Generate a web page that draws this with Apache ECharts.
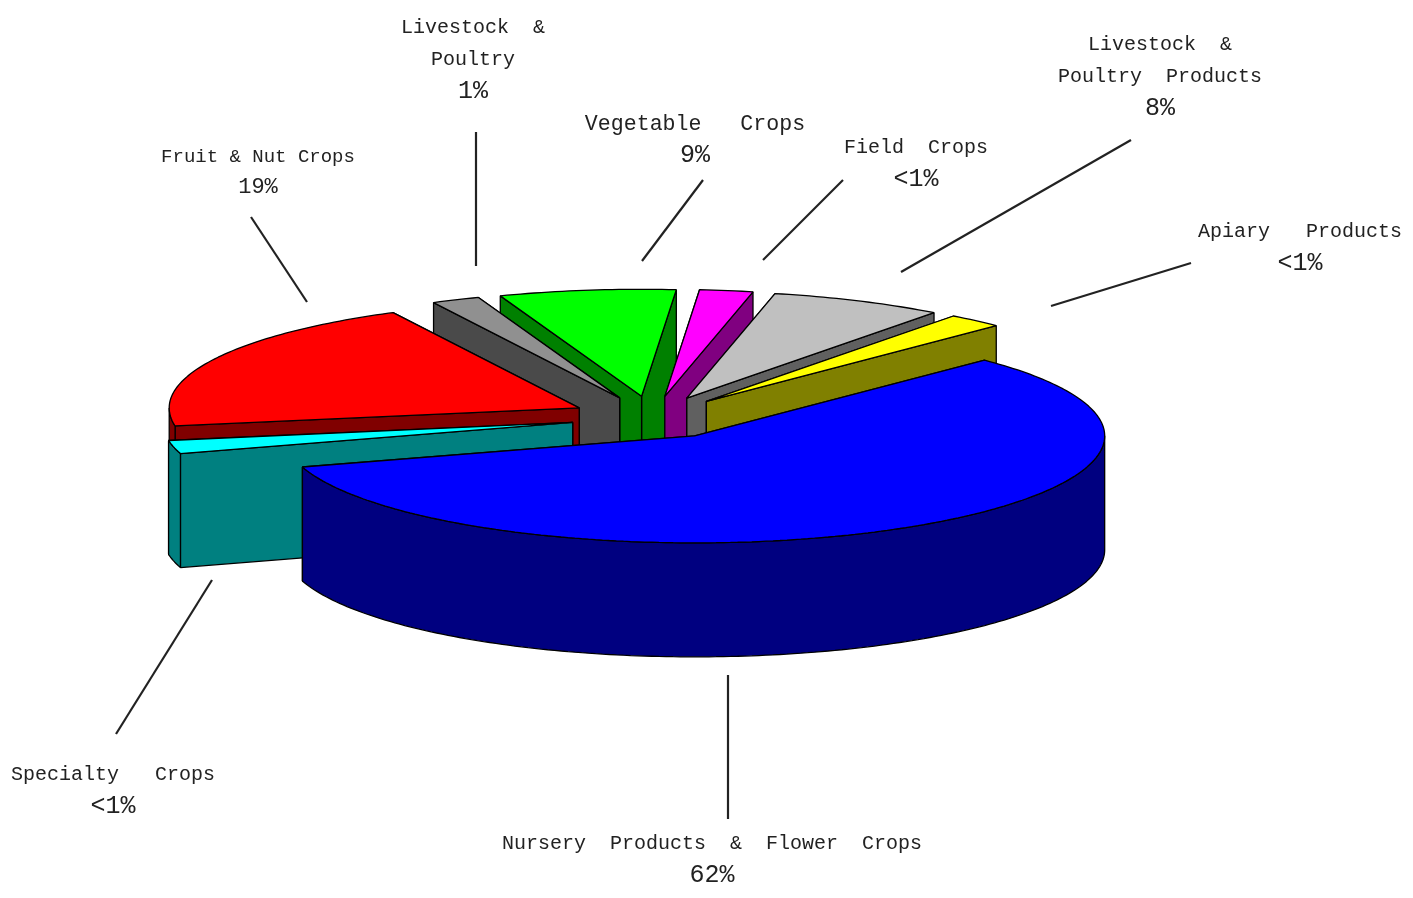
<!DOCTYPE html>
<html>
<head>
<meta charset="utf-8">
<style>html,body{margin:0;background:#fff}#main{width:1413px;height:898px}</style>
<script src="https://cdn.jsdelivr.net/npm/echarts@6/dist/echarts.min.js"></script>
</head>
<body>
<div id="main"></div>
<script>
// slices clockwise, starting at the upper right of the disc
var categories = ['Nursery Products & Flower Crops', 'Specialty Crops', 'Fruit & Nut Crops', 'Livestock & Poultry',
  'Vegetable Crops', 'Field Crops', 'Livestock & Poultry Products', 'Apiary Products'];
// share of the disc as drawn (the printed percentages are in pctLabels)
var shares = [57.8, 2, 20.2, 1.9, 6.95, 2.1, 6.85, 2.2];
var pctLabels = ['62%', '<1%', '19%', '1%', '9%', '<1%', '8%', '<1%'];
var topColors = ['#0000ff', '#00ffff', '#ff0000', '#909090', '#00ff00', '#ff00ff', '#c0c0c0', '#ffff00'];
var sideColors = ['#000080', '#008080', '#800000', '#4a4a4a', '#008000', '#800080', '#606060', '#808000'];
// back to front
var paintOrder = [4, 3, 5, 6, 7, 2, 1, 0];

var labelLines = [
  ['Nursery  Products  &  Flower  Crops'],
  ['Specialty   Crops'],
  ['Fruit & Nut Crops'],
  ['Livestock  &', 'Poultry'],
  ['Vegetable   Crops'],
  ['Field  Crops'],
  ['Livestock  &', 'Poultry  Products'],
  ['Apiary   Products']
];
var labelX = [712, 113, 258, 473, 695, 916, 1160, 1300];
var labelY = [844, 775, 157, 28, 124, 148, 45, 232];
var labelSize = [20, 20, 19, 20, 21.6, 20, 20, 20];
var leaders = [[728, 675, 728, 819], [212, 580, 116, 734], [251, 217, 307, 302], [476, 132, 476, 266],
  [703, 180, 642, 261], [843, 180, 763, 260], [1131, 140, 901, 272], [1191, 263, 1051, 306]];

var START_ANGLE = -45, RX = 410, RY = 107, DEPTH = 114, CX = 652.5, CY = 417.5, EXPLODE = 0.2;

var sum = shares.reduce(function (a, b) { return a + b; }, 0);
var acc = START_ANGLE;
var ranges = shares.map(function (s) {
  var r = [acc, acc + s / sum * 360];
  acc = r[1];
  return r;
});

function rad(d) { return d * Math.PI / 180; }

function renderSlice(params, api) {
  var i = api.value(2);
  var a0 = api.value(0), a1 = api.value(1), mid = (a0 + a1) / 2;
  var ox = CX + EXPLODE * RX * Math.cos(rad(mid));
  var oy = CY + EXPLODE * RY * Math.sin(rad(mid));
  function pt(a, dy) { return [ox + RX * Math.cos(rad(a)), oy + RY * Math.sin(rad(a)) + (dy || 0)]; }
  function face(points, fill) {
    return { type: 'polygon', shape: { points: points }, style: { fill: fill, stroke: '#000', lineWidth: 1.3, lineJoin: 'bevel' } };
  }
  function radial(a) {
    var p = pt(a);
    return face([[ox, oy], p, [p[0], p[1] + DEPTH], [ox, oy + DEPTH]], sideColors[i]);
  }
  var children = [];
  // the edge further back goes first, the other one can hide it
  var edges = [a0, a1].sort(function (a, b) { return Math.sin(rad(a)) - Math.sin(rad(b)); });
  children.push(radial(edges[0]), radial(edges[1]));

  // outer wall, front half only
  var w0 = Math.max(a0, 0), w1 = Math.min(a1, 180), a;
  if (w1 > w0) {
    var upper = [], lower = [];
    for (a = w0; a < w1; a += 1) { upper.push(pt(a)); lower.unshift(pt(a, DEPTH)); }
    upper.push(pt(w1)); lower.unshift(pt(w1, DEPTH));
    children.push(face(upper.concat(lower), sideColors[i]));
  }

  var top = [[ox, oy]];
  for (a = a0; a < a1; a += 1) top.push(pt(a));
  top.push(pt(a1));
  children.push(face(top, topColors[i]));
  return { type: 'group', children: children };
}

var graphics = [];
leaders.forEach(function (l) {
  graphics.push({ type: 'line', shape: { x1: l[0], y1: l[1], x2: l[2], y2: l[3] }, style: { stroke: '#222', lineWidth: 2.2 } });
});
function addText(text, x, y, size) {
  graphics.push({ type: 'text', x: x, y: y, style: {
    text: text, fill: '#222', font: size + 'px "Liberation Mono"', textAlign: 'center', textVerticalAlign: 'middle' } });
}
labelLines.forEach(function (lines, i) {
  var y = labelY[i], step = i === 2 ? 30 : 31.5;
  lines.forEach(function (t) { addText(t, labelX[i], y, labelSize[i]); y += step; });
  addText(pctLabels[i], labelX[i], y, i === 2 ? 22 : 25);
});

var chart = echarts.init(document.getElementById('main'), null, { renderer: 'canvas' });
chart.setOption({
  animation: false,
  backgroundColor: '#fff',
  graphic: { elements: graphics },
  series: [{
    type: 'custom',
    coordinateSystem: 'none',
    silent: true,
    renderItem: renderSlice,
    data: paintOrder.map(function (i) {
      return { name: categories[i], value: [ranges[i][0], ranges[i][1], i] };
    })
  }]
});
</script>
</body>
</html>
